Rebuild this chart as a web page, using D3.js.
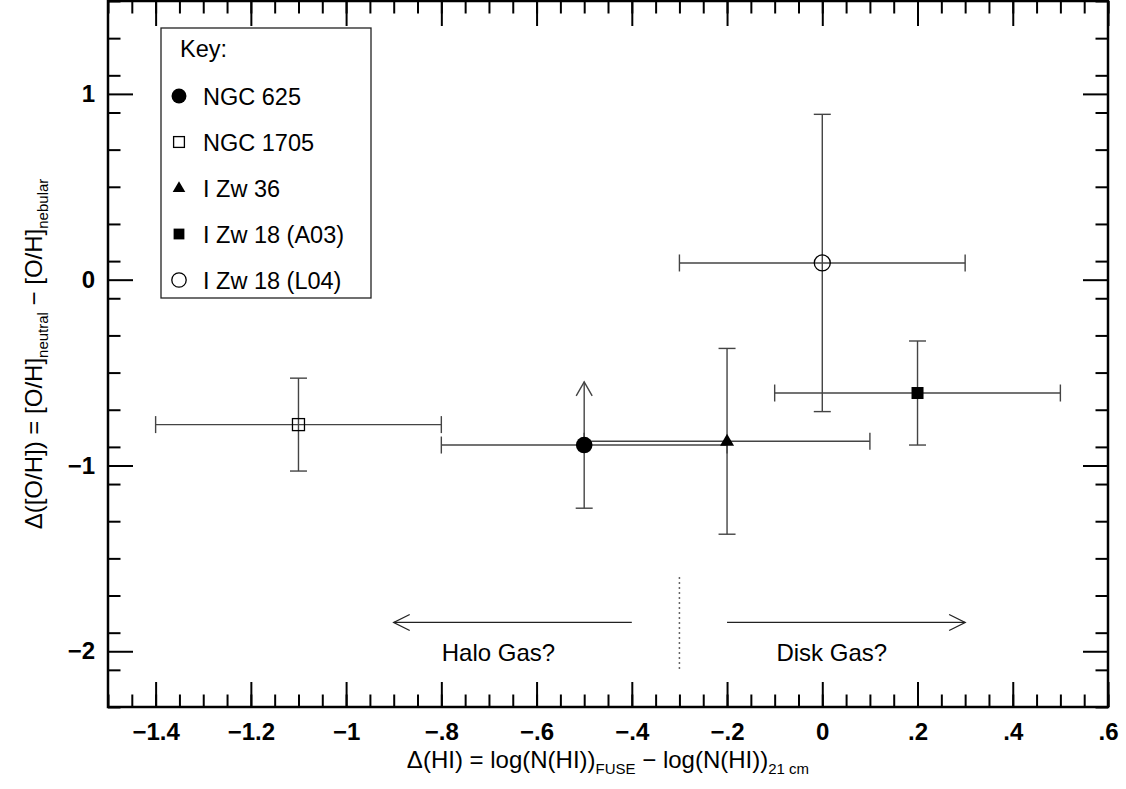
<!DOCTYPE html>
<html>
<head>
<meta charset="utf-8">
<script src="https://cdn.jsdelivr.net/npm/d3@7"></script>
<style>
  body { margin: 0; background: #fff; }
  text { font-family: "Liberation Sans", Arial, Helvetica, sans-serif; fill: #000; }
</style>
</head>
<body>
<svg id="chart" width="1126" height="789"></svg>
<script>
// galaxies
const names = ["NGC 625", "NGC 1705", "I Zw 36", "I Zw 18 (A03)", "I Zw 18 (L04)"];
const symbols = ["circleFilled", "squareOpen", "triangleFilled", "squareFilled", "circleOpen"];
const dHI = [-0.5, -1.1, -0.2, 0.2, 0.0];
const dHIerr = [0.3, 0.3, 0.3, 0.3, 0.3];
const dOH = [-0.89, -0.78, -0.87, -0.61, 0.09];
const dOHerrLo = [0.34, 0.25, 0.50, 0.28, 0.80];
const dOHerrHi = [0.34, 0.25, 0.50, 0.28, 0.80];
const lowerLimit = [true, false, false, false, false];

// halo / disk annotation
const splitX = -0.3;
const splitY = [-1.6, -2.1];
const haloArrow = [-0.4, -0.9];
const diskArrow = [-0.2, 0.3];
const arrowY = -1.845;
const gasLabels = ["Halo Gas?", "Disk Gas?"];
const gasLabelX = [-0.68, 0.02];
const gasLabelY = -2.05;

// ticks
const xMajor = [-1.4, -1.2, -1, -0.8, -0.6, -0.4, -0.2, 0, 0.2, 0.4, 0.6];
const yMajor = [-2, -1, 0, 1];
const xDomain = [-1.5, 0.6];
const yDomain = [-2.3, 1.5];

const margins = {top: 1, right: 18, bottom: 82, left: 108};
const W = 1126, H = 789;

const chart = d3.select("#chart");
chart.append("rect").attr("width", W).attr("height", H).attr("fill", "white");

const xScale = d3.scaleLinear(xDomain, [margins.left, W - margins.right]);
const yScale = d3.scaleLinear(yDomain, [H - margins.bottom, margins.top]);

const x0 = xScale.range()[0], x1 = xScale.range()[1];
const yB = yScale.range()[0], yT = yScale.range()[1];

function fmt(v) {
    if (Math.abs(v) < 1e-9) return "0";
    let s = String(+v.toFixed(2));
    s = s.replace(/^(-?)0\./, "$1.");
    return s.replace("-", "\u2212");
}

const xMinor = d3.range(0, 43).map(i => +(xDomain[0] + i * 0.05).toFixed(2));
const yMinor = d3.range(0, 20).map(i => +(yDomain[0] + i * 0.2).toFixed(2));

function styleAxis(g) {
    g.select(".domain").remove();
    g.selectAll(".tick line").attr("stroke", "#000").attr("stroke-width", 2);
    g.selectAll(".tick text")
        .style("font-size", "24px")
        .style("font-weight", "bold")
        .attr("fill", "#000");
}

// bottom
chart.append("g").attr("transform", `translate(0,${yB})`)
    .call(d3.axisBottom(xScale).tickValues(xMinor).tickSize(-12.5).tickFormat(""))
    .call(styleAxis);
chart.append("g").attr("transform", `translate(0,${yB})`)
    .call(d3.axisBottom(xScale).tickValues(xMajor).tickSize(-25).tickPadding(16).tickFormat(fmt))
    .call(styleAxis);
// top
chart.append("g").attr("transform", `translate(0,${yT})`)
    .call(d3.axisTop(xScale).tickValues(xMinor).tickSize(-12.5).tickFormat(""))
    .call(styleAxis);
chart.append("g").attr("transform", `translate(0,${yT})`)
    .call(d3.axisTop(xScale).tickValues(xMajor).tickSize(-25).tickFormat(""))
    .call(styleAxis);
// left
chart.append("g").attr("transform", `translate(${x0},0)`)
    .call(d3.axisLeft(yScale).tickValues(yMinor).tickSize(-12.5).tickFormat(""))
    .call(styleAxis);
chart.append("g").attr("transform", `translate(${x0},0)`)
    .call(d3.axisLeft(yScale).tickValues(yMajor).tickSize(-25).tickPadding(13).tickFormat(fmt))
    .call(styleAxis);
// right
chart.append("g").attr("transform", `translate(${x1},0)`)
    .call(d3.axisRight(yScale).tickValues(yMinor).tickSize(-12.5).tickFormat(""))
    .call(styleAxis);
chart.append("g").attr("transform", `translate(${x1},0)`)
    .call(d3.axisRight(yScale).tickValues(yMajor).tickSize(-25).tickFormat(""))
    .call(styleAxis);

// frame
chart.append("rect")
    .attr("x", x0).attr("y", yT)
    .attr("width", x1 - x0).attr("height", yB - yT)
    .attr("fill", "none").attr("stroke", "#000").attr("stroke-width", 2.5);

// axis titles
const xt = chart.append("text")
    .attr("x", (x0 + x1) / 2).attr("y", 768)
    .attr("text-anchor", "middle")
    .style("font-size", "24px");
xt.append("tspan").text("\u0394(HI) = log(N(HI))");
xt.append("tspan").attr("dy", 6).style("font-size", "15px").text("FUSE");
xt.append("tspan").attr("dy", -6).text(" \u2212 log(N(HI))");
xt.append("tspan").attr("dy", 6).style("font-size", "15px").text("21 cm");

const yt = chart.append("text")
    .attr("transform", `translate(42,${(yT + yB) / 2}) rotate(-90)`)
    .attr("text-anchor", "middle")
    .style("font-size", "24px");
yt.append("tspan").text("\u0394([O/H]) = [O/H]");
yt.append("tspan").attr("dy", 6).style("font-size", "15px").text("neutral");
yt.append("tspan").attr("dy", -6).text(" \u2212 [O/H]");
yt.append("tspan").attr("dy", 6).style("font-size", "15px").text("nebular");

// error bars
const barColor = "#444";
const cap = 8.5;
const pts = names.map((n, i) => ({
    name: n, sym: symbols[i], x: dHI[i], y: dOH[i],
    xe: dHIerr[i], ylo: dOHerrLo[i], yhi: dOHerrHi[i], lim: lowerLimit[i]
}));

const eb = chart.append("g").attr("stroke", barColor).attr("stroke-width", 1.4).attr("fill", "none");
pts.forEach(d => {
    const cx = xScale(d.x), cy = yScale(d.y);
    const xl = xScale(d.x - d.xe), xr = xScale(d.x + d.xe);
    const yl = yScale(d.y - d.ylo), yh = yScale(d.y + d.yhi);
    eb.append("line").attr("x1", xl).attr("x2", xr).attr("y1", cy).attr("y2", cy);
    eb.append("line").attr("x1", xl).attr("x2", xl).attr("y1", cy - cap).attr("y2", cy + cap);
    eb.append("line").attr("x1", xr).attr("x2", xr).attr("y1", cy - cap).attr("y2", cy + cap);
    eb.append("line").attr("x1", cx).attr("x2", cx).attr("y1", yl).attr("y2", yh);
    eb.append("line").attr("x1", cx - cap).attr("x2", cx + cap).attr("y1", yl).attr("y2", yl);
    if (d.lim) {
        eb.append("path").attr("d", `M${cx - 8},${yh + 14}L${cx},${yh}L${cx + 8},${yh + 14}`);
    } else {
        eb.append("line").attr("x1", cx - cap).attr("x2", cx + cap).attr("y1", yh).attr("y2", yh);
    }
});

function drawSymbol(g, sym, cx, cy, s) {
    if (sym === "circleFilled") {
        g.append("circle").attr("cx", cx).attr("cy", cy).attr("r", 8.3 * s).attr("fill", "#000");
    } else if (sym === "circleOpen") {
        g.append("circle").attr("cx", cx).attr("cy", cy).attr("r", 8 * s)
            .attr("fill", "none").attr("stroke", "#000").attr("stroke-width", 1.3);
    } else if (sym === "squareOpen") {
        g.append("rect").attr("x", cx - 6 * s).attr("y", cy - 6 * s)
            .attr("width", 12 * s).attr("height", 12 * s)
            .attr("fill", "none").attr("stroke", "#000").attr("stroke-width", 1.3);
    } else if (sym === "squareFilled") {
        g.append("rect").attr("x", cx - 6 * s).attr("y", cy - 6 * s)
            .attr("width", 12 * s).attr("height", 12 * s).attr("fill", "#000");
    } else if (sym === "triangleFilled") {
        g.append("path")
            .attr("d", `M${cx},${cy - 7.5 * s}L${cx + 7 * s},${cy + 4.5 * s}L${cx - 7 * s},${cy + 4.5 * s}Z`)
            .attr("fill", "#000");
    }
}

const marks = chart.append("g");
pts.forEach(d => drawSymbol(marks, d.sym, xScale(d.x), yScale(d.y), 1));

// halo / disk annotation
const ann = chart.append("g").attr("stroke", "#222").attr("stroke-width", 1.3).attr("fill", "none");
ann.append("line")
    .attr("x1", xScale(splitX)).attr("x2", xScale(splitX))
    .attr("y1", yScale(splitY[0])).attr("y2", yScale(splitY[1]))
    .attr("stroke", "#666").attr("stroke-dasharray", "2,3").attr("stroke-width", 1.5);

[haloArrow, diskArrow].forEach(a => {
    const xa = xScale(a[0]), xb = xScale(a[1]), ya = yScale(arrowY);
    const dir = xb > xa ? 1 : -1;
    ann.append("line").attr("x1", xa).attr("x2", xb).attr("y1", ya).attr("y2", ya);
    ann.append("path").attr("d", `M${xb - dir * 16},${ya - 8}L${xb},${ya}L${xb - dir * 16},${ya + 8}`);
});

gasLabels.forEach((t, i) => {
    chart.append("text")
        .attr("x", xScale(gasLabelX[i])).attr("y", yScale(gasLabelY))
        .attr("text-anchor", "middle")
        .style("font-size", "24px")
        .text(t);
});

// key
const key = chart.append("g");
key.append("rect").attr("x", 161).attr("y", 28).attr("width", 210).attr("height", 270)
    .attr("fill", "white").attr("stroke", "#222").attr("stroke-width", 1.3);
key.append("text").attr("x", 180).attr("y", 57).style("font-size", "23.5px").text("Key:");
pts.forEach((d, i) => {
    const cy = 96 + i * 46;
    drawSymbol(key, d.sym, 179, cy, 0.9);
    key.append("text").attr("x", 203).attr("y", cy + 8.5).style("font-size", "23.5px").text(d.name);
});
</script>
</body>
</html>
